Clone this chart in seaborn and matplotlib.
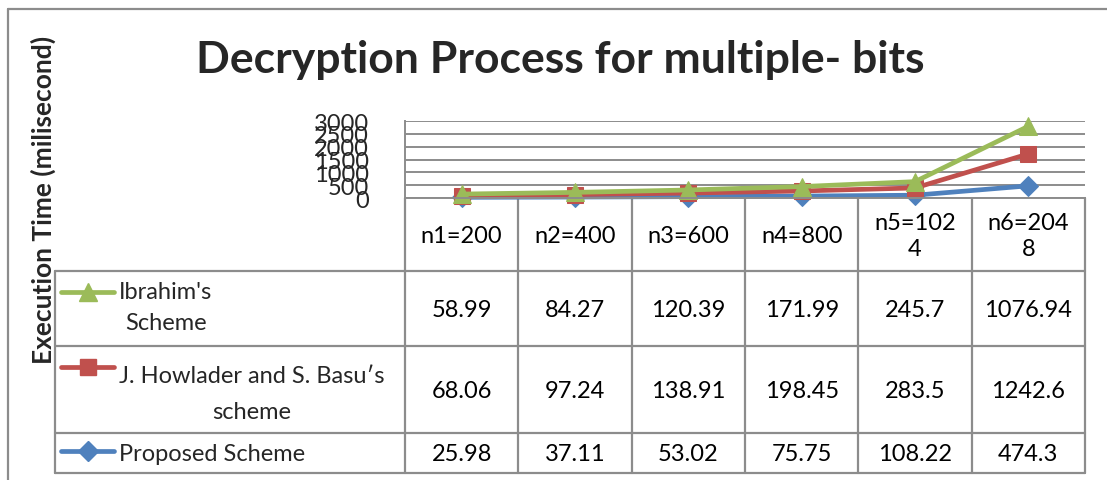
import numpy as np
import pandas as pd
import matplotlib
matplotlib.use("Agg")
import matplotlib.pyplot as plt
import seaborn as sns
from matplotlib.lines import Line2D

# ---------------- data ----------------
categories = ["n1=200", "n2=400", "n3=600", "n4=800", "n5=1024", "n6=2048"]
header_labels = ["n1=200", "n2=400", "n3=600", "n4=800", "n5=102\n4", "n6=204\n8"]
ibrahim = [58.99, 84.27, 120.39, 171.99, 245.7, 1076.94]
howlader = [68.06, 97.24, 138.91, 198.45, 283.5, 1242.6]
proposed = [25.98, 37.11, 53.02, 75.75, 108.22, 474.3]
series_labels = ["Ibrahim's\nScheme", "J. Howlader and S. Basu\u2032s\nscheme", "Proposed Scheme"]
yticks = [0, 500, 1000, 1500, 2000, 2500, 3000]
title = "Decryption Process for multiple- bits"
ylabel = "Execution Time (milisecond)"

GREEN = "#9BBB59"
RED = "#C0504D"
BLUE = "#4F81BD"
GRID = "#8C8C8C"

sns.set_theme(style="white")
plt.rcParams['font.family'] = ['Lato', 'DejaVu Sans']

W, H = 1107, 481
fig = plt.figure(figsize=(W / 100, H / 100), dpi=100)
fig.patch.set_facecolor("white")

# overlay in pixel coordinates for table / frame
ov = fig.add_axes([0, 0, 1, 1])
ov.set_xlim(0, W)
ov.set_ylim(H, 0)
ov.axis('off')
ov.patch.set_alpha(0)

# plot area
L, R, T, B = 405, 1085, 122, 199
ax = fig.add_axes([L / W, 1 - B / H, (R - L) / W, (B - T) / H])
ax.patch.set_alpha(0)

# stacked line values (Excel stacked line chart)
stack = np.cumsum(np.array([proposed, howlader, ibrahim]), axis=0)
df = pd.DataFrame({
    "cat": categories * 3,
    "val": np.concatenate(stack),
    "series": ["Proposed"] * 6 + ["Howlader"] * 6 + ["Ibrahim"] * 6,
})
styles = [("Proposed", BLUE, "D", 10), ("Howlader", RED, "s", 11), ("Ibrahim", GREEN, "^", 13)]
for name, col, mk, ms in styles:
    sub = df[df.series == name]
    sns.lineplot(data=sub, x="cat", y="val", ax=ax, color=col, marker=mk, markersize=ms,
                 markeredgecolor=col, linewidth=3.4, sort=False, legend=False, clip_on=False)

ax.set_xlim(-0.5, len(categories) - 0.5)
ax.set_ylim(0, 3000)
ax.set_yticks(yticks)
ax.set_yticklabels([str(t) for t in yticks], fontsize=17)
ax.set_xticks([])
ax.set_xlabel("")
ax.set_ylabel("")
ax.tick_params(axis='y', length=0, pad=26)
ax.grid(axis='y', color=GRID, linewidth=1.4)
ax.set_axisbelow(True)
for s in ["top", "right"]:
    ax.spines[s].set_visible(False)
for s in ["left", "bottom"]:
    ax.spines[s].set_color(GRID)
    ax.spines[s].set_linewidth(1.4)

# ---------------- data table ----------------
lw = 1.6
ncol = len(categories)
cw = (R - L) / ncol
cols = [L + cw * k for k in range(ncol + 1)]
rows = [272, 347, 434, 474]
LEG_L = 55
for x in cols:
    ov.add_line(Line2D([x, x], [B, rows[-1]], color=GRID, lw=lw))
ov.add_line(Line2D([LEG_L, LEG_L], [rows[0], rows[-1]], color=GRID, lw=lw))
for y in rows:
    ov.add_line(Line2D([LEG_L, R], [y, y], color=GRID, lw=lw))

FS = 17
hdr_y = (B + rows[0]) / 2
for k, lab in enumerate(header_labels):
    ov.text(cols[k] + cw / 2, hdr_y + 1, lab, ha='center', va='center', fontsize=FS,
            linespacing=1.35, color='black')

table_rows = [ibrahim, howlader, proposed]
for r, vals in enumerate(table_rows):
    yc = (rows[r] + rows[r + 1]) / 2
    for k, v in enumerate(vals):
        ov.text(cols[k] + cw / 2, yc + 1, str(v), ha='center', va='center', fontsize=FS, color='black')

# legend keys in table
key_y = [293, 368, 452]
key_text = [([119], [293, 324]), ([119], [377, 413]), ([119], [455])]
key_style = [(GREEN, "^", 13), (RED, "s", 11), (BLUE, "D", 10)]
for r, lab in enumerate(series_labels):
    col, mk, ms = key_style[r]
    ov.add_line(Line2D([61, 114], [key_y[r], key_y[r]], color=col, lw=3.4, solid_capstyle='round'))
    ov.add_line(Line2D([87.5], [key_y[r]], color=col, marker=mk, markersize=ms, markeredgecolor=col, lw=0))
    lines = lab.split("\n")
    if len(lines) == 1:
        ov.text(119, key_text[r][1][0], lines[0], ha='left', va='center', fontsize=FS)
    else:
        t = ov.text(119, key_text[r][1][0], lines[0], ha='left', va='center', fontsize=FS)
        fig.canvas.draw()
        bb = t.get_window_extent()
        cx = (bb.x0 + bb.x1) / 2
        ov.text(cx, key_text[r][1][1], lines[1], ha='center', va='center', fontsize=FS)

# frame, title, y-label
ov.add_line(Line2D([8, 8], [10, H], color=GRID, lw=1.6))
ov.add_line(Line2D([8, W], [10, 10], color=GRID, lw=1.6))
ov.text(560, 60, title, ha='center', va='center', fontsize=32, fontweight='bold')
ov.text(43, 200, ylabel, ha='center', va='center', rotation=90, fontsize=19, fontweight='bold')

fig.savefig("out.png", dpi=100, facecolor="white")
